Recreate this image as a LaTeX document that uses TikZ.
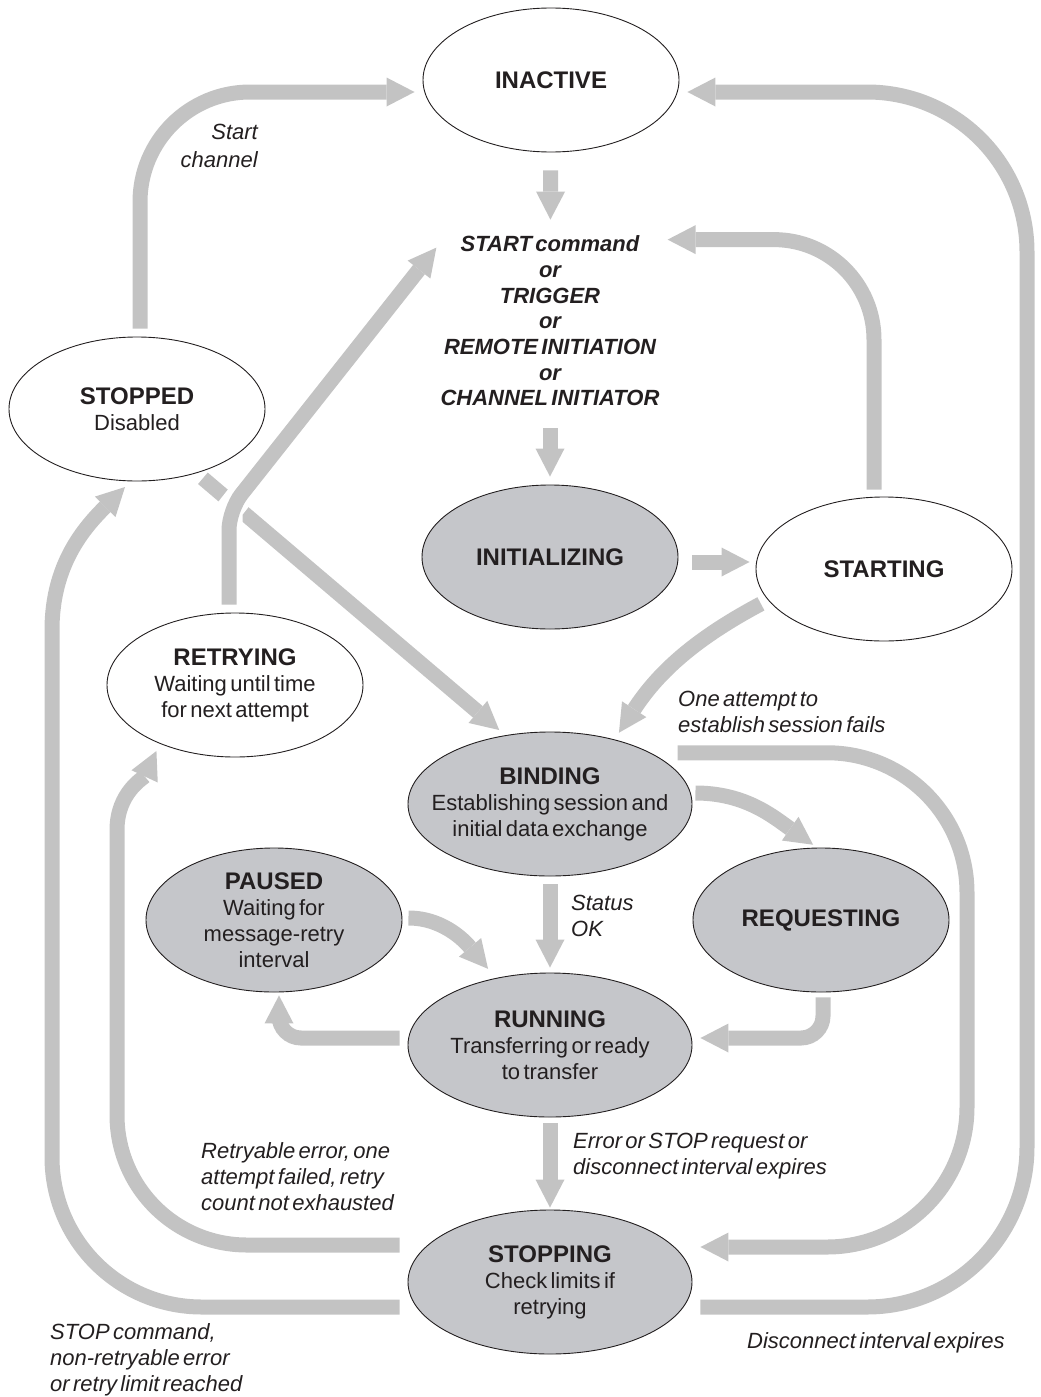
\documentclass[tikz,border=0pt]{standalone}
\usepackage{fontspec}
\setmainfont[WordSpace=0.55]{Liberation Sans}
\usepackage{xcolor}
\usetikzlibrary{shapes.geometric, arrows.meta}

\definecolor{flowgray}{RGB}{195,195,195}
\definecolor{stategray}{RGB}{197,198,202}
\definecolor{inkgray}{RGB}{35,31,32}
\newcommand{\statetitle}[1]{{\fontsize{24}{26}\selectfont\bfseries #1}}

\begin{document}
\begin{tikzpicture}[x=1pt, y=-1pt,
  state/.style={ellipse, draw=inkgray, line width=0.9pt, fill=white, minimum width=256pt, minimum height=144pt, inner xsep=-40pt, inner ysep=0pt, align=center, text=inkgray, font=\fontsize{22}{26}\selectfont},
  busy/.style={state, fill=stategray},
  wide/.style={minimum width=284pt},
  flow/.style={draw=flowgray, line width=15pt, -{Triangle[width=29pt,length=28pt,line width=0pt]}, shorten <=8pt, shorten >=8pt},
  note/.style={font=\fontsize{22}{26}\selectfont\itshape, text=inkgray, align=left, inner sep=0pt}]

\useasboundingbox (0,0) rectangle (1041,1397);

\node[state] (inactive) at (551,80) {\statetitle{INACTIVE}};
\node[state] (stopped) at (137,409) {\statetitle{STOPPED}\\Disabled};
\node[busy] (initializing) at (550,557) {\statetitle{INITIALIZING}};
\node[state] (starting) at (884,569) {\statetitle{STARTING}};
\node[state] (retrying) at (235,685) {\statetitle{RETRYING}\\Waiting until time\\for next attempt};
\node[busy, wide] (binding) at (550,804) {\statetitle{BINDING}\\Establishing session and\\initial data exchange};
\node[busy] (paused) at (274,920) {\statetitle{PAUSED}\\Waiting for\\message-retry\\interval};
\node[busy] (requesting) at (821,920) {\statetitle{REQUESTING}};
\node[busy, wide] (running) at (550,1045) {\statetitle{RUNNING}\\Transferring or ready\\to transfer};
\node[busy, wide] (stopping) at (550,1282) {\statetitle{STOPPING}\\Check limits if\\retrying};

\node[font=\fontsize{22}{25.7}\selectfont\bfseries\itshape, text=inkgray, align=center, inner sep=4pt] (cmd) at (550,321) {START command\\or\\TRIGGER\\or\\REMOTE INITIATION\\or\\CHANNEL INITIATOR};

\node[note, anchor=east, align=right, font=\fontsize{22}{28}\selectfont\itshape] (startlbl) at (258,146) {Start\\channel};
\node[note, anchor=west] (faillbl) at (678,712) {One attempt to\\establish session fails};
\node[note, anchor=west] (oklbl) at (571,916) {Status\\OK};
\node[note, anchor=west] (retrylbl) at (201,1177) {Retryable error, one\\attempt failed, retry\\count not exhausted};
\node[note, anchor=west] (errlbl) at (573,1156) {Error or STOP request or\\disconnect interval expires};
\node[note, anchor=west] (stoplbl) at (50,1360) {STOP command,\\non-retryable error\\or retry limit reached};
\node[note, anchor=west] (disclbl) at (747,1343) {Disconnect interval expires};

\coordinate (outerrail) at (1027,92);
\coordinate (failrail) at (967,1247);
\coordinate (retrybend) at (117,1245);
\coordinate (retryrail) at (117,830);
\coordinate (stopbend) at (52,1307);
\coordinate (stoprail) at (52,630);
\coordinate (kink) at (229,510);

\draw[flow, rounded corners=110pt] ([xshift=3pt]stopped.north) |- ([yshift=-12pt]inactive.west);
\draw[flow, shorten <=18pt, shorten >=12pt] (inactive) -- (cmd);
\draw[flow, shorten <=18pt] (cmd) -- (initializing);
\draw[flow, shorten <=14pt, shorten >=6pt] ([yshift=-5pt]initializing.east) -- ([yshift=7pt]starting.west);
\draw[flow, rounded corners=100pt, shorten <=7pt, shorten >=0pt] ([xshift=-10pt]starting.north) |- ([xshift=4pt,yshift=-8pt]cmd.north east);
\draw[flow] (starting.195) to[out=208, in=57] (binding.45);

\draw[flow] (stopped.-47) -- (binding.123);
\draw[white, line width=27pt, shorten <=8pt, shorten >=60pt] ([xshift=-6pt]retrying.north) -- (kink) -- ([yshift=-16pt]cmd.north west);
\draw[flow, rounded corners=20pt, shorten >=0pt] ([xshift=-6pt]retrying.north) -- (kink) -- ([yshift=-16pt]cmd.north west);

\draw[flow, rounded corners=160pt] ([yshift=-25pt]stopping.east) -| (outerrail) -- ([yshift=-12pt]inactive.east);
\draw[flow, rounded corners=140pt] ([xshift=19pt]binding.north east) -| (failrail) -- ([yshift=35pt]stopping.east);
\draw[flow] ([yshift=37pt]stopping.west) -- ([xshift=130pt]retrybend) to[out=180, in=-90] ([yshift=130pt]retrybend) -- (retryrail) to[out=90, in=245] (retrying.218);
\draw[flow] ([yshift=-25pt]stopping.west) -- ([xshift=150pt]stopbend) to[out=180, in=-90] ([yshift=150pt]stopbend) -- (stoprail) to[out=90, in=225] (stopped.265);

\draw[flow, shorten <=3pt, shorten >=5pt] ([yshift=11pt]binding.east) to[out=0, in=145] (requesting.93);
\draw[flow, shorten >=5pt] (binding) -- (running);
\draw[flow, shorten <=6pt, shorten >=12pt] ([yshift=2pt]paused.east) to[out=0, in=130] (running.129);
\draw[flow, rounded corners=22pt, shorten >=3pt] ([yshift=7pt]running.west) -| ([xshift=5pt]paused.south);
\draw[flow, rounded corners=22pt, shorten <=5pt] ([xshift=2pt]requesting.south) |- ([yshift=7pt]running.east);
\draw[flow, shorten <=6pt, shorten >=2pt] (running) -- (stopping);
\end{tikzpicture}
\end{document}
